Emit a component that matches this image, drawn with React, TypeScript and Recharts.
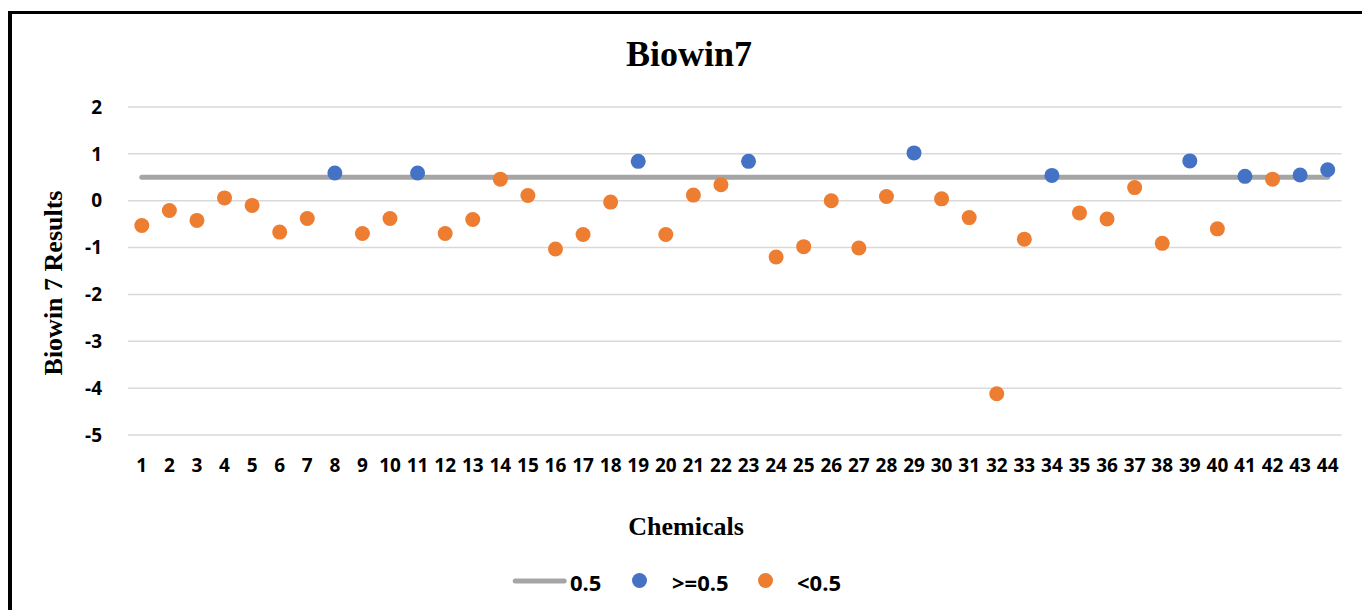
import { ComposedChart, Line, Scatter, XAxis, YAxis, CartesianGrid, Legend } from 'recharts';

// Chemical index (x) and predicted Biowin7 result (y)
const chemicals = [
  1, 2, 3, 4, 5, 6, 7, 8, 9, 10, 11, 12, 13, 14, 15, 16, 17, 18, 19, 20, 21, 22,
  23, 24, 25, 26, 27, 28, 29, 30, 31, 32, 33, 34, 35, 36, 37, 38, 39, 40, 41, 42, 43, 44,
];
const biowin7Results = [
  -0.53, -0.21, -0.42, 0.06, -0.1, -0.67, -0.38, 0.59, -0.7, -0.38, 0.59, -0.7,
  -0.4, 0.46, 0.11, -1.03, -0.72, -0.03, 0.84, -0.72, 0.12, 0.34, 0.84, -1.2,
  -0.98, 0.0, -1.01, 0.09, 1.02, 0.04, -0.36, -4.12, -0.82, 0.54, -0.26, -0.39,
  0.28, -0.91, 0.85, -0.6, 0.52, 0.46, 0.55, 0.66,
];
const cutoff = 0.5;
const yTicks = [-5, -4, -3, -2, -1, 0, 1, 2];

const cutoffLine = chemicals.map((c) => ({ x: c, y: cutoff }));
const points = chemicals.map((c, i) => ({ x: c, y: biowin7Results[i] }));
const aboveCutoff = points.filter((p) => p.y >= cutoff);
const belowCutoff = points.filter((p) => p.y < cutoff);

const BLUE = '#4472C4';
const ORANGE = '#ED7D31';
const GREY = '#A5A5A5';
const SANS = '"Open Sans", "DejaVu Sans", sans-serif';
const SERIF = '"Liberation Serif", "Times New Roman", serif';

const tickStyle = { fill: '#000', fontSize: 19, fontWeight: 700, fontFamily: SANS };

const dot = (color: string) => (props: any) => (
  <circle cx={props.cx} cy={props.cy} r={7.5} fill={color} />
);

const renderYLabel = () => (
  <text
    x={50}
    y={269}
    transform="rotate(-90 50 269)"
    textAnchor="middle"
    fontFamily={SERIF}
    fontWeight={700}
    fontSize={26}
    fill="#000"
  >
    Biowin 7 Results
  </text>
);

const renderXLabel = () => (
  <text x={674} y={521} textAnchor="middle" fontFamily={SERIF} fontWeight={700} fontSize={26} fill="#000">
    Chemicals
  </text>
);

const legendText = (left: number, label: string) => (
  <span style={{ position: 'absolute', left, top: 1, lineHeight: '40px', whiteSpace: 'nowrap' }}>{label}</span>
);

const legendDot = (center: number, color: string) => (
  <span
    style={{
      position: 'absolute',
      left: center - 7.5,
      top: 12.2,
      width: 15,
      height: 15,
      borderRadius: '50%',
      background: color,
    }}
  />
);

const renderLegend = () => (
  <div
    style={{
      position: 'relative',
      width: '100%',
      height: 40,
      fontFamily: SANS,
      fontSize: 22,
      fontWeight: 700,
      color: '#000',
    }}
  >
    <svg style={{ position: 'absolute', left: 498, top: 14.7 }} width={60} height={10}>
      <line x1={5.2} y1={5} x2={54.2} y2={5} stroke={GREY} strokeWidth={5} strokeLinecap="round" />
    </svg>
    {legendText(558, '0.5')}
    {legendDot(627, BLUE)}
    {legendText(660, '>=0.5')}
    {legendDot(753, ORANGE)}
    {legendText(785, '<0.5')}
  </div>
);

export default function App() {
  return (
    <div
      style={{
        position: 'fixed',
        left: 8,
        top: 11,
        width: 1354,
        height: 599,
        borderLeft: '4px solid #000',
        borderTop: '3px solid #000',
        background: '#fff',
      }}
    >
      <div
        style={{
          position: 'absolute',
          left: 577,
          top: 22,
          width: 200,
          textAlign: 'center',
          fontFamily: SERIF,
          fontWeight: 700,
          fontSize: 36,
          lineHeight: '36px',
          color: '#000',
        }}
      >
        Biowin7
      </div>
      <ComposedChart width={1350} height={596} margin={{ top: 93, right: 20.5, bottom: 9, left: 0 }}>
        <CartesianGrid vertical={false} stroke="#D9D9D9" strokeWidth={1.5} />
        <XAxis
          type="number"
          dataKey="x"
          domain={[0.5, 44.5]}
          ticks={chemicals}
          interval={0}
          allowDataOverflow
          height={126}
          axisLine={false}
          tickLine={false}
          tickSize={0}
          tickMargin={24}
          tick={tickStyle}
          label={{ content: renderXLabel }}
        />
        <YAxis
          type="number"
          domain={[-5, 2]}
          ticks={yTicks}
          interval={0}
          width={116}
          axisLine={false}
          tickLine={false}
          tickSize={0}
          tickMargin={26}
          tick={tickStyle}
          label={{ content: renderYLabel }}
        />
        <Line
          data={cutoffLine}
          dataKey="y"
          name="0.5"
          stroke={GREY}
          strokeWidth={5}
          strokeLinecap="round"
          dot={false}
          activeDot={false}
          isAnimationActive={false}
        />
        <Scatter data={aboveCutoff} dataKey="y" name=">=0.5" fill={BLUE} shape={dot(BLUE)} isAnimationActive={false} />
        <Scatter data={belowCutoff} dataKey="y" name="<0.5" fill={ORANGE} shape={dot(ORANGE)} isAnimationActive={false} />
        <Legend verticalAlign="bottom" height={40} content={renderLegend} />
      </ComposedChart>
    </div>
  );
}
